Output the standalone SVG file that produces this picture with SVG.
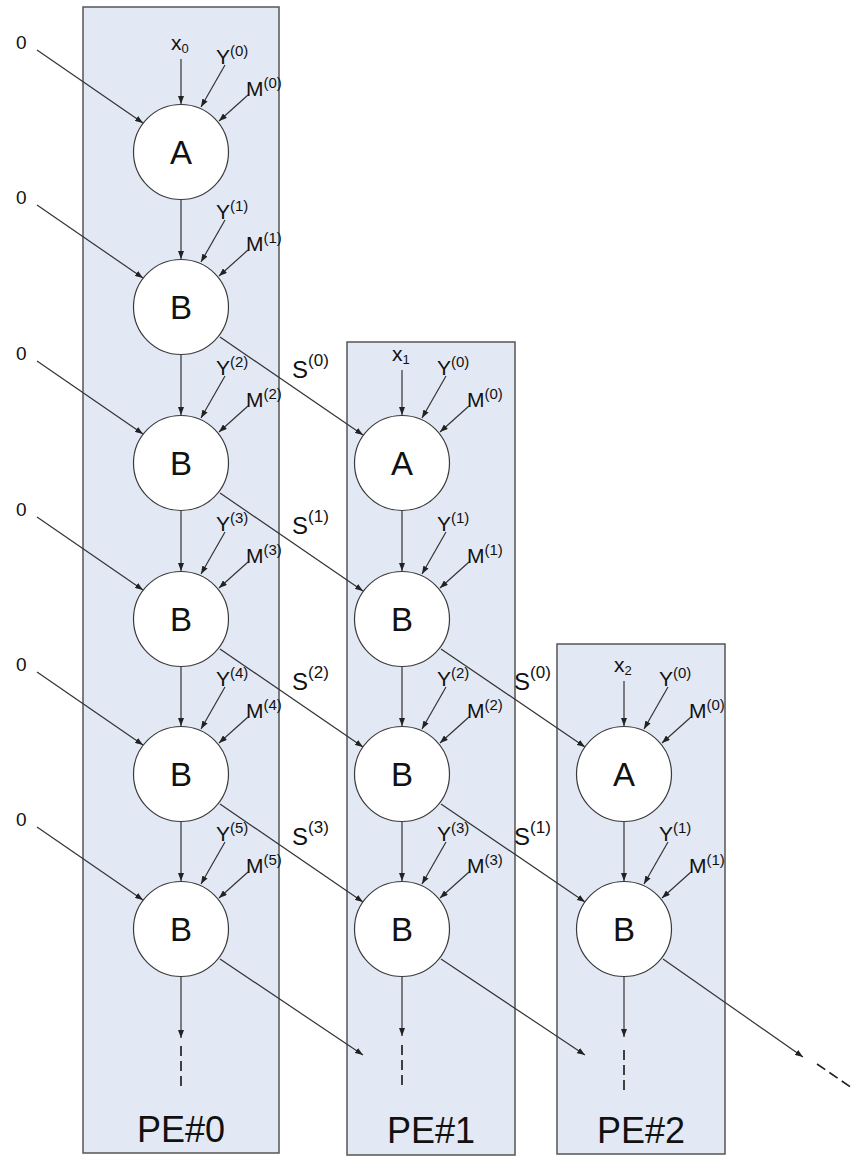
<svg xmlns="http://www.w3.org/2000/svg" width="853" height="1157" viewBox="0 0 853 1157">
  <style>
    .pe { fill: #E3E9F4; stroke: #555; stroke-width: 1.5; }
    .node { fill: #fff; stroke: #3a3a3a; stroke-width: 1.2; }
    .edge { stroke: #333; stroke-width: 1.2; fill: none; }
    .arr { marker-end: url(#ah); }
    .dash { stroke: #222; stroke-width: 1.7; stroke-dasharray: 10 5; fill: none; }
    text { font-family: "Liberation Sans", Arial, sans-serif; fill: #111; }
    .nl { font-size: 33px; text-anchor: middle; }
    .in { font-size: 21px; }
    .sup { font-size: 15px; }
    .sub { font-size: 13px; }
    .sl { font-size: 24px; }
    .ssup { font-size: 17px; }
    .zero { font-size: 19px; }
    .pel { font-size: 36px; text-anchor: middle; }
  </style>
  <defs>
    <marker id="ah" markerUnits="userSpaceOnUse" markerWidth="8" markerHeight="6" refX="8" refY="3" orient="auto">
      <path d="M0,0 L8,3 L0,6 z" fill="#222"/>
    </marker>
  </defs>

  <!-- processing element columns -->
  <g id="pe0-box"><rect class="pe" x="83" y="7" width="196" height="1146"/></g>
  <g id="pe1-box"><rect class="pe" x="347" y="342" width="168" height="813"/></g>
  <g id="pe2-box"><rect class="pe" x="557" y="644" width="168" height="510"/></g>

  <!-- connectors -->
  <g id="connectors">
    <!-- zero inputs into PE#0 -->
    <line class="edge arr" x1="37" y1="50" x2="143" y2="123"/>
    <line class="edge arr" x1="37" y1="205" x2="143" y2="278"/>
    <line class="edge arr" x1="37" y1="361" x2="143" y2="434"/>
    <line class="edge arr" x1="37" y1="517" x2="143" y2="590"/>
    <line class="edge arr" x1="37" y1="672" x2="143" y2="745"/>
    <line class="edge arr" x1="37" y1="827" x2="143" y2="900"/>

    <!-- PE#0 column -->
    <line class="edge arr" x1="181" y1="59" x2="181" y2="104"/>
    <line class="edge arr" x1="225" y1="65" x2="201" y2="107"/>
    <line class="edge arr" x1="248" y1="95" x2="219" y2="121"/>
    <line class="edge arr" x1="181" y1="200" x2="181" y2="259"/>
    <line class="edge arr" x1="225" y1="220" x2="201" y2="262"/>
    <line class="edge arr" x1="248" y1="250" x2="219" y2="276"/>
    <line class="edge arr" x1="181" y1="355" x2="181" y2="415"/>
    <line class="edge arr" x1="225" y1="376" x2="201" y2="418"/>
    <line class="edge arr" x1="248" y1="406" x2="219" y2="432"/>
    <line class="edge arr" x1="181" y1="511" x2="181" y2="571"/>
    <line class="edge arr" x1="225" y1="532" x2="201" y2="574"/>
    <line class="edge arr" x1="248" y1="562" x2="219" y2="588"/>
    <line class="edge arr" x1="181" y1="667" x2="181" y2="726"/>
    <line class="edge arr" x1="225" y1="687" x2="201" y2="729"/>
    <line class="edge arr" x1="248" y1="717" x2="219" y2="743"/>
    <line class="edge arr" x1="181" y1="822" x2="181" y2="881"/>
    <line class="edge arr" x1="225" y1="842" x2="201" y2="884"/>
    <line class="edge arr" x1="248" y1="872" x2="219" y2="898"/>
    <line class="edge arr" x1="181" y1="977" x2="181" y2="1038"/>
    <line class="dash" x1="181" y1="1046" x2="181" y2="1087"/>

    <!-- PE#0 to PE#1 -->
    <line class="edge arr" x1="220" y1="337" x2="363" y2="435"/>
    <line class="edge arr" x1="220" y1="493" x2="363" y2="591"/>
    <line class="edge arr" x1="220" y1="649" x2="363" y2="747"/>
    <line class="edge arr" x1="220" y1="804" x2="363" y2="902"/>
    <line class="edge arr" x1="220" y1="959" x2="363" y2="1055"/>

    <!-- PE#1 column -->
    <line class="edge arr" x1="402" y1="370" x2="402" y2="415"/>
    <line class="edge arr" x1="446" y1="376" x2="422" y2="418"/>
    <line class="edge arr" x1="469" y1="406" x2="440" y2="432"/>
    <line class="edge arr" x1="402" y1="511" x2="402" y2="571"/>
    <line class="edge arr" x1="446" y1="532" x2="422" y2="574"/>
    <line class="edge arr" x1="469" y1="562" x2="440" y2="588"/>
    <line class="edge arr" x1="402" y1="667" x2="402" y2="726"/>
    <line class="edge arr" x1="446" y1="687" x2="422" y2="729"/>
    <line class="edge arr" x1="469" y1="717" x2="440" y2="743"/>
    <line class="edge arr" x1="402" y1="822" x2="402" y2="881"/>
    <line class="edge arr" x1="446" y1="842" x2="422" y2="884"/>
    <line class="edge arr" x1="469" y1="872" x2="440" y2="898"/>
    <line class="edge arr" x1="402" y1="977" x2="402" y2="1036"/>
    <line class="dash" x1="402" y1="1045" x2="402" y2="1087"/>

    <!-- PE#1 to PE#2 -->
    <line class="edge arr" x1="441" y1="649" x2="585" y2="747"/>
    <line class="edge arr" x1="441" y1="804" x2="585" y2="902"/>
    <line class="edge arr" x1="441" y1="959" x2="585" y2="1055"/>

    <!-- PE#2 column -->
    <line class="edge arr" x1="624" y1="681" x2="624" y2="726"/>
    <line class="edge arr" x1="668" y1="687" x2="644" y2="729"/>
    <line class="edge arr" x1="691" y1="717" x2="662" y2="743"/>
    <line class="edge arr" x1="624" y1="822" x2="624" y2="881"/>
    <line class="edge arr" x1="668" y1="842" x2="644" y2="884"/>
    <line class="edge arr" x1="691" y1="872" x2="662" y2="898"/>
    <line class="edge arr" x1="624" y1="977" x2="624" y2="1037"/>
    <line class="dash" x1="624" y1="1050" x2="624" y2="1092"/>

    <!-- onward to the next element -->
    <line class="edge arr" x1="663" y1="959" x2="803" y2="1057"/>
    <line class="dash" x1="817" y1="1064" x2="852" y2="1088"/>
  </g>

  <!-- PE#0 nodes -->
  <g id="pe0-a0"><circle class="node" cx="181" cy="152" r="47.5"/><text class="nl" x="181" y="164">A</text></g>
  <g id="pe0-b1"><circle class="node" cx="181" cy="307" r="47.5"/><text class="nl" x="181" y="319">B</text></g>
  <g id="pe0-b2"><circle class="node" cx="181" cy="463" r="47.5"/><text class="nl" x="181" y="475">B</text></g>
  <g id="pe0-b3"><circle class="node" cx="181" cy="619" r="47.5"/><text class="nl" x="181" y="631">B</text></g>
  <g id="pe0-b4"><circle class="node" cx="181" cy="774" r="47.5"/><text class="nl" x="181" y="786">B</text></g>
  <g id="pe0-b5"><circle class="node" cx="181" cy="929" r="47.5"/><text class="nl" x="181" y="941">B</text></g>

  <!-- PE#1 nodes -->
  <g id="pe1-a0"><circle class="node" cx="402" cy="463" r="47.5"/><text class="nl" x="402" y="475">A</text></g>
  <g id="pe1-b1"><circle class="node" cx="402" cy="619" r="47.5"/><text class="nl" x="402" y="631">B</text></g>
  <g id="pe1-b2"><circle class="node" cx="402" cy="774" r="47.5"/><text class="nl" x="402" y="786">B</text></g>
  <g id="pe1-b3"><circle class="node" cx="402" cy="929" r="47.5"/><text class="nl" x="402" y="941">B</text></g>

  <!-- PE#2 nodes -->
  <g id="pe2-a0"><circle class="node" cx="624" cy="774" r="47.5"/><text class="nl" x="624" y="786">A</text></g>
  <g id="pe2-b1"><circle class="node" cx="624" cy="929" r="47.5"/><text class="nl" x="624" y="941">B</text></g>

  <!-- input labels -->
  <g id="labels">
    <text class="zero" x="16" y="49">0</text>
    <text class="zero" x="16" y="204">0</text>
    <text class="zero" x="16" y="360">0</text>
    <text class="zero" x="16" y="516">0</text>
    <text class="zero" x="16" y="671">0</text>
    <text class="zero" x="16" y="826">0</text>

    <text class="in" x="171" y="50">x<tspan class="sub" dy="3">0</tspan></text>
    <text class="in" x="392" y="361">x<tspan class="sub" dy="3">1</tspan></text>
    <text class="in" x="614" y="672">x<tspan class="sub" dy="3">2</tspan></text>

    <text class="in" x="216" y="64">Y<tspan class="sup" dy="-8">(0)</tspan></text>
    <text class="in" x="246" y="96">M<tspan class="sup" dy="-8">(0)</tspan></text>
    <text class="in" x="216" y="219">Y<tspan class="sup" dy="-8">(1)</tspan></text>
    <text class="in" x="246" y="251">M<tspan class="sup" dy="-8">(1)</tspan></text>
    <text class="in" x="216" y="375">Y<tspan class="sup" dy="-8">(2)</tspan></text>
    <text class="in" x="246" y="407">M<tspan class="sup" dy="-8">(2)</tspan></text>
    <text class="in" x="216" y="531">Y<tspan class="sup" dy="-8">(3)</tspan></text>
    <text class="in" x="246" y="563">M<tspan class="sup" dy="-8">(3)</tspan></text>
    <text class="in" x="216" y="686">Y<tspan class="sup" dy="-8">(4)</tspan></text>
    <text class="in" x="246" y="718">M<tspan class="sup" dy="-8">(4)</tspan></text>
    <text class="in" x="216" y="841">Y<tspan class="sup" dy="-8">(5)</tspan></text>
    <text class="in" x="246" y="873">M<tspan class="sup" dy="-8">(5)</tspan></text>

    <text class="in" x="437" y="375">Y<tspan class="sup" dy="-8">(0)</tspan></text>
    <text class="in" x="467" y="407">M<tspan class="sup" dy="-8">(0)</tspan></text>
    <text class="in" x="437" y="531">Y<tspan class="sup" dy="-8">(1)</tspan></text>
    <text class="in" x="467" y="563">M<tspan class="sup" dy="-8">(1)</tspan></text>
    <text class="in" x="437" y="686">Y<tspan class="sup" dy="-8">(2)</tspan></text>
    <text class="in" x="467" y="718">M<tspan class="sup" dy="-8">(2)</tspan></text>
    <text class="in" x="437" y="841">Y<tspan class="sup" dy="-8">(3)</tspan></text>
    <text class="in" x="467" y="873">M<tspan class="sup" dy="-8">(3)</tspan></text>

    <text class="in" x="659" y="686">Y<tspan class="sup" dy="-8">(0)</tspan></text>
    <text class="in" x="689" y="718">M<tspan class="sup" dy="-8">(0)</tspan></text>
    <text class="in" x="659" y="841">Y<tspan class="sup" dy="-8">(1)</tspan></text>
    <text class="in" x="689" y="873">M<tspan class="sup" dy="-8">(1)</tspan></text>

    <!-- partial sums passed between elements -->
    <text class="sl" x="292" y="378">S<tspan class="ssup" dy="-12">(0)</tspan></text>
    <text class="sl" x="292" y="534">S<tspan class="ssup" dy="-12">(1)</tspan></text>
    <text class="sl" x="292" y="690">S<tspan class="ssup" dy="-12">(2)</tspan></text>
    <text class="sl" x="292" y="845">S<tspan class="ssup" dy="-12">(3)</tspan></text>
    <text class="sl" x="514" y="690">S<tspan class="ssup" dy="-12">(0)</tspan></text>
    <text class="sl" x="514" y="845">S<tspan class="ssup" dy="-12">(1)</tspan></text>

    <text class="pel" x="181" y="1142">PE#0</text>
    <text class="pel" x="431" y="1143">PE#1</text>
    <text class="pel" x="641" y="1143">PE#2</text>
  </g>
</svg>
